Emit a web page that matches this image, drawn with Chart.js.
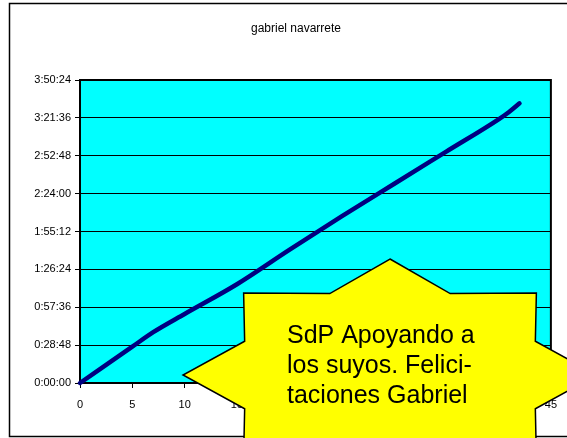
<!DOCTYPE html>
<html>
<head>
<meta charset="utf-8">
<script src="https://cdn.jsdelivr.net/npm/chart.js@4"></script>
<style>
  html, body { margin: 0; padding: 0; background: #fff; }
  #wrap { width: 567px; height: 438px; position: relative; }
</style>
</head>
<body>
<div id="wrap"><canvas id="c" width="567" height="438"></canvas></div>
<script>
// ---- data ----
const chartTitle = 'gabriel navarrete';
const kilometres = [0, 5, 7, 10, 15, 20, 25, 30, 35, 40, 41, 42];
const elapsedTimes = ['0:00:00','0:27:37','0:38:40','0:52:30','1:15:05','1:41:11','2:06:42','2:31:20','2:55:55','3:20:30','3:26:07','3:32:40'];
const xTickLabels = ['0','5','10','15','20','25','30','35','40','45'];
const yTickLabels = ['0:00:00','0:28:48','0:57:36','1:26:24','1:55:12','2:24:00','2:52:48','3:21:36','3:50:24'];
const calloutLines = ['SdP Apoyando a', 'los suyos. Felici-', 'taciones Gabriel'];

function toSeconds(s) { const p = s.split(':').map(Number); return p[0]*3600 + p[1]*60 + p[2]; }
const ySteps = yTickLabels.map(toSeconds);
const points = kilometres.map((k, i) => ({ x: k, y: toSeconds(elapsedTimes[i]) }));

const decor = {
  id: 'decor',
  beforeDraw(chart) {
    const ctx = chart.ctx, a = chart.chartArea;
    ctx.save();
    ctx.fillStyle = '#ffffff';
    ctx.fillRect(0, 0, chart.width, chart.height);
    ctx.strokeStyle = '#000';
    ctx.lineWidth = 1.5;
    ctx.strokeRect(9.5, 3.5, 580, 433);
    ctx.fillStyle = '#00ffff';
    ctx.fillRect(a.left, a.top, a.right - a.left, a.bottom - a.top);
    ctx.fillStyle = '#000';
    ctx.font = '12px "Liberation Sans", Arial, sans-serif';
    ctx.textAlign = 'center';
    ctx.textBaseline = 'alphabetic';
    ctx.fillText(chartTitle, 296, 32);
    ctx.restore();
  },
  beforeDatasetsDraw(chart) {
    const ctx = chart.ctx, a = chart.chartArea;
    ctx.save();
    ctx.strokeStyle = '#000';
    ctx.lineWidth = 2;
    ctx.strokeRect(a.left, a.top, a.right - a.left, a.bottom - a.top);
    ctx.restore();
  },
  afterDraw(chart) {
    const ctx = chart.ctx;
    const cx = 390, cy = 375, rx = 207, ry = 116, inner = 0.76, n = 8;
    ctx.save();
    ctx.beginPath();
    for (let i = 0; i < n * 2; i++) {
      const ang = -Math.PI / 2 + i * Math.PI / n;
      const r = (i % 2 === 0) ? 1 : inner;
      const px = cx + Math.cos(ang) * rx * r;
      const py = cy + Math.sin(ang) * ry * r;
      if (i === 0) ctx.moveTo(px, py); else ctx.lineTo(px, py);
    }
    ctx.closePath();
    ctx.fillStyle = '#ffff00';
    ctx.fill();
    ctx.strokeStyle = '#000';
    ctx.lineWidth = 1.5;
    ctx.stroke();
    ctx.fillStyle = '#000';
    ctx.font = '25px "Liberation Sans", Arial, sans-serif';
    ctx.textAlign = 'left';
    ctx.textBaseline = 'alphabetic';
    const baselines = [343, 373, 403];
    calloutLines.forEach((t, i) => ctx.fillText(t, 287, baselines[i]));
    ctx.restore();
  }
};

new Chart(document.getElementById('c'), {
  type: 'line',
  data: {
    datasets: [{
      data: points,
      borderColor: '#000080',
      borderWidth: 4.5,
      pointRadius: 0,
      fill: false,
      cubicInterpolationMode: 'monotone',
      borderCapStyle: 'round',
      borderJoinStyle: 'round',
      clip: false
    }]
  },
  options: {
    responsive: false,
    animation: false,
    devicePixelRatio: 1,
    layout: { padding: { top: 80, right: 14, left: 0, bottom: 0 } },
    plugins: { legend: { display: false }, title: { display: false }, tooltip: { enabled: false } },
    scales: {
      x: {
        type: 'linear',
        min: 0, max: 45,
        ticks: {
          stepSize: 5, color: '#000', padding: 10, maxRotation: 0,
          font: { family: '"Liberation Sans", Arial, sans-serif', size: 11 },
          callback: (v) => { const i = xTickLabels.indexOf(String(v)); return i >= 0 ? xTickLabels[i] : ''; }
        },
        grid: { drawOnChartArea: false, drawTicks: true, tickLength: 5, color: '#000', lineWidth: 1 },
        border: { display: true, color: '#000', width: 2 },
        afterFit: (s) => { s.height = 55; }
      },
      y: {
        type: 'linear',
        min: ySteps[0], max: ySteps[ySteps.length - 1],
        afterBuildTicks: (s) => { s.ticks = ySteps.map(v => ({ value: v })); },
        ticks: {
          color: '#000', padding: 4,
          font: { family: '"Liberation Sans", Arial, sans-serif', size: 11 },
          callback: (v) => { const i = ySteps.indexOf(v); return i >= 0 ? yTickLabels[i] : ''; }
        },
        grid: { color: '#000', lineWidth: 1, tickLength: 5, drawTicks: true },
        border: { display: true, color: '#000', width: 2 },
        afterFit: (s) => { s.width = 80; }
      }
    }
  },
  plugins: [decor]
});
</script>
</body>
</html>
